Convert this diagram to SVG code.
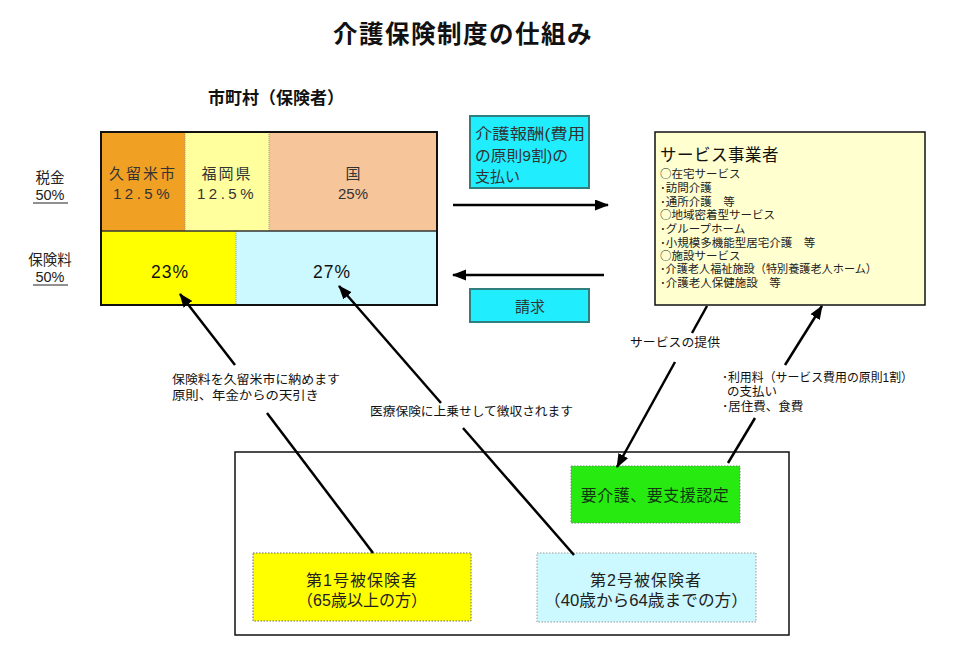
<svg xmlns="http://www.w3.org/2000/svg" width="975" height="666" viewBox="0 0 975 666">
<style>
text { font-family: "Liberation Sans", "Noto Sans CJK JP", sans-serif; fill: #111; dominant-baseline: central; }
.jp { font-family: "Noto Sans CJK JP", sans-serif; }
.title { font-size: 24.5px; font-weight: bold; }
.sub { font-size: 17px; font-weight: bold; }
.cell { font-size: 15px; text-anchor: middle; fill: #333; }
.pct { font-size: 17.5px; text-anchor: middle; letter-spacing: 1px; }
.side { font-size: 14.5px; text-anchor: middle; fill: #222; }
.lbl { font-size: 12.5px; fill: #111; }
.svc { font-size: 11.5px; fill: #222; }
.box16 { font-size: 16px; text-anchor: middle; fill: #222; }
.conn { stroke: #000; stroke-width: 2.5; fill: none; }
.arr { marker-end: url(#ah); }
.cyan { fill: #20EEFF; stroke: #2F7F7F; stroke-width: 2; }
</style>
<defs>
<marker id="ah" markerUnits="userSpaceOnUse" markerWidth="14" markerHeight="12" refX="13" refY="5.5" orient="auto">
<path d="M0,0 L14,5.5 L0,11 z" fill="#000"/>
</marker>
</defs>
<rect width="975" height="666" fill="#fff"/>

<text class="title jp" x="463" y="32" text-anchor="middle" letter-spacing="1.5">介護保険制度の仕組み</text>

<g id="insurer">
<text class="sub jp" x="276" y="96" text-anchor="middle">市町村（保険者）</text>
<rect x="101" y="132" width="84" height="99" fill="#F0A022"/>
<rect x="185" y="132" width="84" height="99" fill="#FFFF9E"/>
<rect x="269" y="132" width="168" height="99" fill="#F6C59A"/>
<rect x="101" y="231" width="135" height="74" fill="#FFFF00"/>
<rect x="236" y="231" width="201" height="74" fill="#CCF8FF"/>
<line x1="185" y1="132" x2="185" y2="231" stroke="#999" stroke-width="1" stroke-dasharray="1,1"/>
<line x1="269" y1="132" x2="269" y2="231" stroke="#999" stroke-width="1" stroke-dasharray="1,1"/>
<line x1="236" y1="231" x2="236" y2="305" stroke="#999" stroke-width="1" stroke-dasharray="1,1"/>
<line x1="101" y1="231" x2="437" y2="231" stroke="#333" stroke-width="1.5"/>
<rect x="101" y="132" width="336" height="173" fill="none" stroke="#111" stroke-width="2"/>
<text class="cell" x="143" y="173" letter-spacing="2">久留米市</text>
<text class="cell" x="143" y="193" letter-spacing="3.5">12.5%</text>
<text class="cell" x="227" y="173" letter-spacing="2">福岡県</text>
<text class="cell" x="227" y="193" letter-spacing="3.5">12.5%</text>
<text class="cell" x="353" y="173">国</text>
<text class="cell" x="353" y="193">25%</text>
<text class="pct" x="170" y="272">23%</text>
<text class="pct" x="332" y="272">27%</text>
</g>

<g id="side-labels">
<text class="side" x="50" y="178">税金</text>
<text class="side" x="50" y="195">50%</text>
<line x1="33" y1="203" x2="68" y2="203" stroke="#222" stroke-width="1"/>
<text class="side" x="50" y="260">保険料</text>
<text class="side" x="50" y="277">50%</text>
<line x1="33" y1="285" x2="68" y2="285" stroke="#222" stroke-width="1"/>
</g>

<g id="payment">
<rect class="cyan" x="470" y="116" width="119" height="72"/>
<text class="cell" x="475" y="133" style="text-anchor:start" textLength="110" lengthAdjust="spacingAndGlyphs">介護報酬(費用</text>
<text class="cell" x="475" y="155" style="text-anchor:start" textLength="93" lengthAdjust="spacingAndGlyphs">の原則9割)の</text>
<text class="cell" x="475" y="176" style="text-anchor:start">支払い</text>
</g>

<g id="claim">
<rect class="cyan" x="470" y="289" width="119" height="33"/>
<text class="cell" x="530" y="306">請求</text>
</g>

<g id="providers">
<rect x="655" y="132" width="270" height="173" fill="#FFFFCF" stroke="#111" stroke-width="1.5"/>
<text x="660" y="155" font-size="16.5" letter-spacing="0.5">サービス事業者</text>
<text class="svc jp" x="660" y="173">○在宅サービス</text>
<text class="svc jp" x="660" y="187">･訪問介護</text>
<text class="svc jp" x="660" y="201">･通所介護　等</text>
<text class="svc jp" x="660" y="214">○地域密着型サービス</text>
<text class="svc jp" x="660" y="228">･グループホーム</text>
<text class="svc jp" x="660" y="242">･小規模多機能型居宅介護　等</text>
<text class="svc jp" x="660" y="255">○施設サービス</text>
<text class="svc jp" x="660" y="268" textLength="217" lengthAdjust="spacingAndGlyphs">･介護老人福祉施設（特別養護老人ホーム）</text>
<text class="svc jp" x="660" y="282">･介護老人保健施設　等</text>
</g>

<g id="insured-area">
<rect x="235" y="452" width="554" height="183" fill="none" stroke="#111" stroke-width="1.5"/>
</g>

<g id="certification">
<rect x="571" y="466" width="169" height="57" fill="#26EA10" stroke="#6a8a6a" stroke-width="1" stroke-dasharray="1.5,1.5"/>
<text class="box16" x="655" y="495" style="fill:#123812" letter-spacing="0.5">要介護、要支援認定</text>
</g>

<g id="insured1">
<rect x="253" y="553" width="218" height="68" fill="#FFFF00" stroke="#666" stroke-width="1" stroke-dasharray="1.5,1.5"/>
<text class="box16" x="362" y="580" letter-spacing="1">第1号被保険者</text>
<text class="box16" x="362" y="600">（65歳以上の方）</text>
</g>

<g id="insured2">
<rect x="537" y="553" width="219" height="69" fill="#CCF8FF" stroke="#999" stroke-width="1" stroke-dasharray="1.5,1.5"/>
<text class="box16" x="646" y="580" letter-spacing="1">第2号被保険者</text>
<text class="box16" x="646" y="600" textLength="204" lengthAdjust="spacingAndGlyphs">（40歳から64歳までの方）</text>
</g>

<g id="connectors">
<line class="conn arr" x1="453" y1="205" x2="608" y2="205"/>
<line class="conn arr" x1="604" y1="275" x2="453" y2="275"/>
<line class="conn arr" x1="235" y1="365" x2="180" y2="294"/>
<line class="conn" x1="267" y1="413" x2="373" y2="553"/>
<line class="conn arr" x1="441" y1="403" x2="339" y2="286"/>
<line class="conn" x1="463" y1="428" x2="574" y2="555"/>
<line class="conn" x1="707" y1="306" x2="692" y2="333"/>
<line class="conn arr" x1="675" y1="362" x2="617" y2="467"/>
<line class="conn" x1="728" y1="463" x2="755" y2="418"/>
<line class="conn arr" x1="785" y1="365" x2="822" y2="306"/>
</g>

<g id="labels">
<text class="lbl" x="172" y="380" textLength="168" lengthAdjust="spacingAndGlyphs">保険料を久留米市に納めます</text>
<text class="lbl" x="172" y="396" textLength="147" lengthAdjust="spacingAndGlyphs">原則、年金からの天引き</text>
<text class="lbl" x="370" y="412" textLength="203" lengthAdjust="spacingAndGlyphs">医療保険に上乗せして徴収されます</text>
<text class="lbl" x="630" y="343" textLength="90" lengthAdjust="spacingAndGlyphs">サービスの提供</text>
<text class="lbl" x="722" y="378" textLength="191" lengthAdjust="spacingAndGlyphs">･利用料（サービス費用の原則1割）</text>
<text class="lbl" x="727" y="392">の支払い</text>
<text class="lbl" x="722" y="407">･居住費、食費</text>
</g>
</svg>
